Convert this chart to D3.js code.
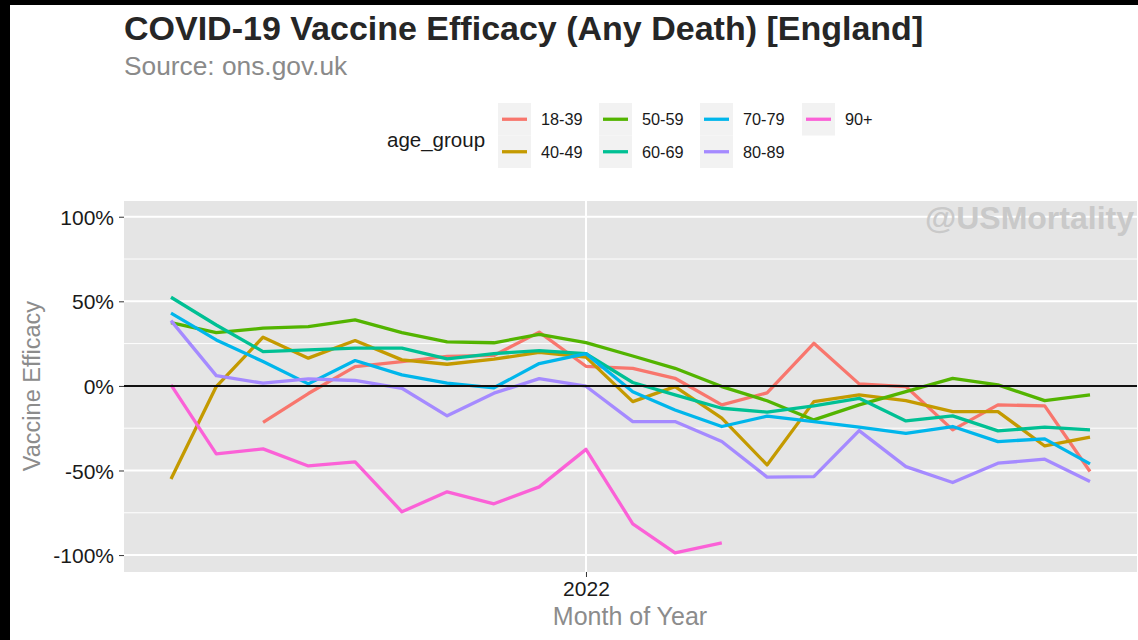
<!DOCTYPE html>
<html><head><meta charset="utf-8">
<script src="https://cdn.jsdelivr.net/npm/d3@7"></script>
<style>
html,body{margin:0;padding:0;background:#fff;}
svg{display:block;font-family:"Liberation Sans",Arial,sans-serif;}
</style></head>
<body>
<svg id="chart" width="1138" height="640"></svg>
<script>
const months = ["2021-04","2021-05","2021-06","2021-07","2021-08","2021-09","2021-10","2021-11","2021-12",
  "2022-01","2022-02","2022-03","2022-04","2022-05","2022-06","2022-07","2022-08","2022-09","2022-10","2022-11","2022-12"];
const ageGroups = ["18-39","40-49","50-59","60-69","70-79","80-89","90+"];
const colors = ["#F8766D","#C49A00","#53B400","#00C094","#00B6EB","#A58AFF","#FB61D7"];
const v18_39 = [null,null,-21.5,-4.5,11.4,14.4,17.5,18,31.8,11.6,10.4,4.5,-11.2,-4.1,25.2,1.2,-0.4,-26,-11.2,-11.8,-50.6];
const v40_49 = [-55,-0.4,28.8,16.4,26.8,15.4,12.8,15.8,19.8,17,-9.3,-0.4,-19.1,-46.7,-9.3,-5.3,-8.7,-15.2,-15.2,-35.5,-30.3];
const v50_59 = [37.4,31.5,34.1,35.0,39.0,31.5,26,25.5,30.4,25.6,17.7,10.4,-0.4,-8.8,-20.1,-11.2,-3.4,4.5,0.6,-8.7,-5.3];
const v60_69 = [52.4,36,20.3,21.3,22.3,22.3,16,19.1,20.9,19,2.0,-5.3,-13.2,-15.5,-11.8,-7.3,-20.7,-17.7,-26.6,-24.4,-26.0];
const v70_79 = [43.0,27.2,14.4,1.2,15.0,6.5,1.6,-1.1,13.2,19.1,-3.4,-14.2,-24.0,-17.9,-21.1,-24.4,-28.0,-24.0,-32.9,-31.3,-46.1];
const v80_89 = [38.6,6.1,1.6,4.1,3.2,-1.4,-17.7,-4.3,4.3,-0.2,-21.1,-21.1,-32.9,-53.9,-53.6,-26.4,-47.7,-57.1,-45.7,-43.3,-56.5];
const v90p   = [0.6,-40.2,-37.2,-47.3,-44.9,-74.4,-62.6,-69.7,-59.7,-37.5,-81.5,-98.7,-92.8,null,null,null,null,null,null,null,null];
const seriesValues = [v18_39,v40_49,v50_59,v60_69,v70_79,v80_89,v90p];
const yMajor = [-100,-50,0,50,100];
const yMinor = [-75,-25,25,75];
const yTickLabels = ["-100%","-50%","0%","50%","100%"];
const xTickLabel = "2022";

const parse = d3.timeParse("%Y-%m");
const dates = months.map(parse);
const svg = d3.select("#chart");

// frame bands
svg.append("rect").attr("x",0).attr("y",0).attr("width",1138).attr("height",5).attr("fill","#000");
svg.append("rect").attr("x",0).attr("y",0).attr("width",10).attr("height",640).attr("fill","#000");

const P = {left:124, right:1137, top:201, bottom:572};
const x = d3.scaleTime().domain(d3.extent(dates)).range([171,1090]);
const y = d3.scaleLinear().domain([-110,109.3]).range([P.bottom,P.top]);

svg.append("rect").attr("x",P.left).attr("y",P.top).attr("width",P.right-P.left).attr("height",P.bottom-P.top).attr("fill","#e5e5e5");

const grid = svg.append("g");
grid.selectAll(".mn").data(yMinor).join("line")
  .attr("x1",P.left).attr("x2",P.right).attr("y1",d=>y(d)).attr("y2",d=>y(d))
  .attr("stroke","#fff").attr("stroke-width",1);
grid.selectAll(".mj").data(yMajor).join("line")
  .attr("x1",P.left).attr("x2",P.right).attr("y1",d=>y(d)).attr("y2",d=>y(d))
  .attr("stroke","#fff").attr("stroke-width",2);
const x2022 = x(new Date(2022,0,1));
grid.append("line").attr("x1",x2022).attr("x2",x2022).attr("y1",P.top).attr("y2",P.bottom)
  .attr("stroke","#fff").attr("stroke-width",2);

// watermark
svg.append("text").attr("x",925).attr("y",229).attr("font-size",32).attr("font-weight","bold")
  .attr("fill","#c9c9c9").text("@USMortality");

// lines
const line = d3.line().defined(d=>d.v!=null).x(d=>x(d.date)).y(d=>y(d.v));
const lg = svg.append("g");
seriesValues.forEach((vals,i)=>{
  const data = vals.map((v,j)=>({date:dates[j],v}));
  lg.append("path").datum(data).attr("d",line).attr("fill","none")
    .attr("stroke",colors[i]).attr("stroke-width",3.3)
    .attr("stroke-linejoin","round").attr("stroke-linecap","butt");
});

// zero line
svg.append("line").attr("x1",P.left).attr("x2",P.right).attr("y1",y(0)).attr("y2",y(0))
  .attr("stroke","#111").attr("stroke-width",2);

// y axis
const yAxis = d3.axisLeft(y).tickValues(yMajor).tickFormat((d,i)=>yTickLabels[i]).tickSize(5).tickPadding(5);
const ya = svg.append("g").attr("transform",`translate(${P.left},0)`).call(yAxis);
ya.select(".domain").remove();
ya.selectAll(".tick line").attr("stroke","#333");
ya.selectAll(".tick text").attr("font-size",21).attr("fill","#1a1a1a")
  .attr("font-family","Liberation Sans, Arial, sans-serif").attr("dy","0.358em");

// x axis
const xAxis = d3.axisBottom(x).tickValues([new Date(2022,0,1)]).tickFormat(()=>xTickLabel).tickSize(5).tickPadding(4);
const xa = svg.append("g").attr("transform",`translate(0,${P.bottom})`).call(xAxis);
xa.select(".domain").remove();
xa.selectAll(".tick line").attr("stroke","#333");
xa.selectAll(".tick text").attr("font-size",21).attr("fill","#1a1a1a")
  .attr("font-family","Liberation Sans, Arial, sans-serif");

// axis titles
svg.append("text").attr("x",630).attr("y",625).attr("text-anchor","middle")
  .attr("font-size",25).attr("fill","#8c8c8c").text("Month of Year");
svg.append("text").attr("transform","translate(40,386) rotate(-90)").attr("text-anchor","middle")
  .attr("font-size",23.5).attr("fill","#8c8c8c").text("Vaccine Efficacy");

// title
svg.append("text").attr("x",124).attr("y",40).attr("font-size",34).attr("font-weight","bold")
  .attr("fill","#262626").text("COVID-19 Vaccine Efficacy (Any Death) [England]");
svg.append("text").attr("x",124).attr("y",75).attr("font-size",26.3)
  .attr("fill","#8a8a8a").text("Source: ons.gov.uk");

// legend
const leg = svg.append("g");
leg.append("text").attr("x",387).attr("y",147).attr("font-size",20.5).attr("fill","#1a1a1a").text("age_group");
const colX = [498,599,700,802];
const rowY = [103,135.5];
const keyW = 33, keyH = 32.5;
ageGroups.forEach((g,i)=>{
  const c = Math.floor(i/2), r = i%2;
  const kx = colX[c], ky = rowY[r];
  leg.append("rect").attr("x",kx).attr("y",ky).attr("width",keyW).attr("height",keyH).attr("fill","#f2f2f2");
  leg.append("line").attr("x1",kx+4).attr("x2",kx+29).attr("y1",ky+keyH/2).attr("y2",ky+keyH/2)
    .attr("stroke",colors[i]).attr("stroke-width",3.3);
  leg.append("text").attr("x",kx+43).attr("y",ky+keyH/2+6).attr("font-size",16.3).attr("fill","#1a1a1a").text(g);
});
</script>
</body></html>
